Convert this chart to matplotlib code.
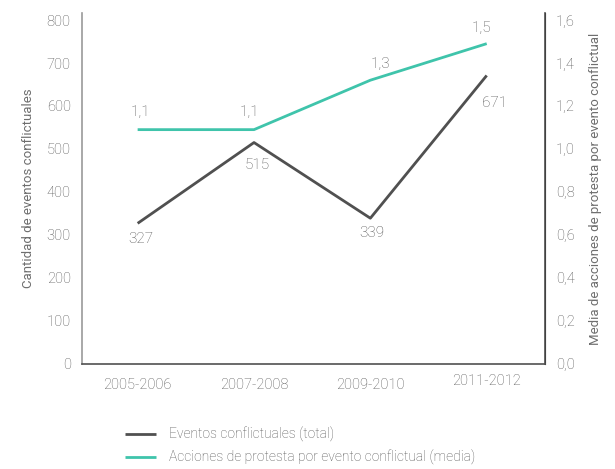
import matplotlib
matplotlib.use("Agg")
import matplotlib.pyplot as plt
from matplotlib.ticker import FuncFormatter

plt.rcParams['font.family'] = ['Roboto', 'DejaVu Sans']
plt.rcParams['font.weight'] = 'light'

# datos por periodo
periodos = ["2005-2006", "2007-2008", "2009-2010", "2011-2012"]
eventos = [327, 515, 339, 671]
acciones = [1.09, 1.09, 1.32, 1.49]

gris = "#505050"
verde = "#3fc4ab"
texto = "#555555"

fig = plt.figure(figsize=(6.15, 4.69), dpi=100)
ax = fig.add_axes([0.133, 0.224, 0.753, 0.748])
ax2 = ax.twinx()

x = list(range(len(periodos)))
l1, = ax.plot(x, eventos, color=gris, lw=2.0, solid_capstyle="butt")
l2, = ax2.plot(x, acciones, color=verde, lw=2.0, solid_capstyle="butt")

ax.set_xlim(-0.48, 3.5)
ax.set_ylim(0, 816)
ax2.set_ylim(0, 1.632)
ax.set_yticks(range(0, 801, 100))
ax2.set_yticks([i * 0.2 for i in range(9)])
ax2.yaxis.set_major_formatter(FuncFormatter(lambda v, p: f"{v:.1f}".replace(".", ",")))
ax.set_xticks(x)
ax.set_xticklabels(periodos)

for a in (ax, ax2):
    a.tick_params(length=0, labelsize=10.5, labelcolor=texto)
    a.spines["top"].set_visible(False)
ax.tick_params(axis="y", pad=8)
ax.tick_params(axis="x", pad=10)
ax2.tick_params(axis="y", pad=8)
ax.spines["left"].set_color("#9a9a9a")
ax.spines["left"].set_linewidth(1.2)
ax.spines["bottom"].set_color(gris)
ax.spines["bottom"].set_linewidth(1.2)
ax2.spines["left"].set_visible(False)
ax2.spines["bottom"].set_visible(False)
ax2.spines["right"].set_color(gris)
ax2.spines["right"].set_linewidth(1.2)
ax.xaxis.get_ticklabels()[-1].set_y(0.012)

ax.set_ylabel("Cantidad de eventos conflictuales", fontsize=9.5, color="#6e6e6e",
              fontweight="normal", labelpad=8)
ax2.set_ylabel("Media de acciones de protesta por evento conflictual", fontsize=9.5,
               color="#6e6e6e", fontweight="normal", labelpad=10)

# etiquetas de valor
off_eventos = [(2, -11), (2, -16), (1, -11), (6, -20)]
for xi, v, o in zip(x, eventos, off_eventos):
    ax.annotate(str(v), (xi, v), xytext=o, textcoords="offset points",
                ha="center", va="center", fontsize=11, color=texto)
off_acciones = [(2, 13), (-3, 13), (7, 12), (-4, 11)]
for xi, v, o in zip(x, acciones, off_acciones):
    ax2.annotate(f"{v:.1f}".replace(".", ","), (xi, v), xytext=o, textcoords="offset points",
                 ha="center", va="center", fontsize=11, color=texto)

fig.legend([l1, l2], ["Eventos conflictuales (total)",
                      "Acciones de protesta por evento conflictual (media)"],
           loc="upper left", bbox_to_anchor=(0.195, 0.102), frameon=False,
           fontsize=10, labelcolor=texto, handlelength=2.2, handletextpad=0.9,
           labelspacing=0.6, borderaxespad=0)

fig.savefig("out.png", dpi=100)
